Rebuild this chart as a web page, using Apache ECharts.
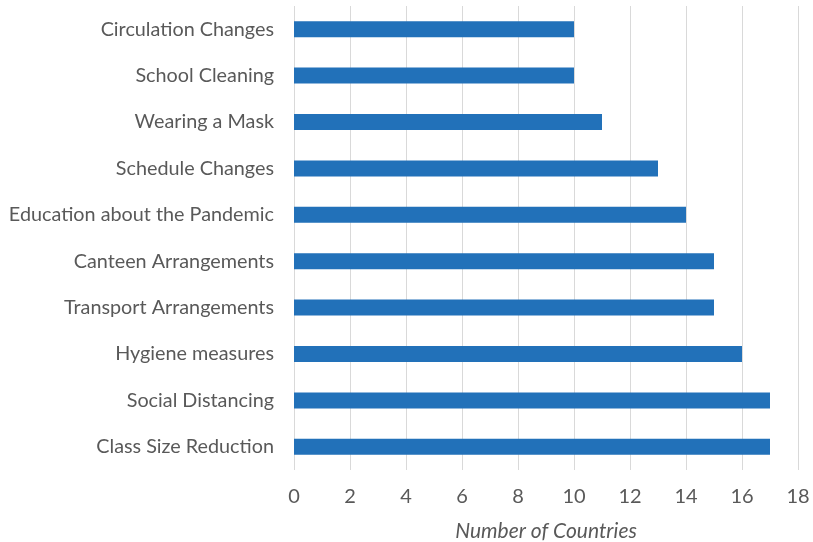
<!DOCTYPE html>
<html><head><meta charset="utf-8">
<script src="https://cdn.jsdelivr.net/npm/echarts@6/dist/echarts.min.js"></script>
<style>html,body{margin:0;padding:0;background:#fff}#c{width:813px;height:542px}</style>
</head><body><div id="c"></div>
<script>
const categories = ["Class Size Reduction","Social Distancing","Hygiene measures","Transport Arrangements","Canteen Arrangements","Education about the Pandemic","Schedule Changes","Wearing a Mask","School Cleaning","Circulation Changes"];
const values = [17,17,16,15,15,14,13,11,10,10];
const xTicks = {min:0,max:18,interval:2};
const axisName = "Number of Countries";

const F = 'Lato';
const chart = echarts.init(document.getElementById('c'));
chart.setOption({
  animation:false,
  grid:{left:294,right:15,top:6,bottom:72,containLabel:false,outerBoundsMode:'none'},
  xAxis:{type:'value',min:xTicks.min,max:xTicks.max,interval:xTicks.interval,
    name:axisName,nameLocation:'middle',nameGap:51,
    nameTextStyle:{fontFamily:F,fontStyle:'italic',fontSize:21,color:'#595959'},
    axisLine:{show:false},axisTick:{show:false},
    axisLabel:{fontFamily:F,fontSize:20,color:'#595959',margin:17},
    splitLine:{lineStyle:{color:'#d9d9d9',width:1}}},
  yAxis:{type:'category',data:categories,
    axisLine:{show:false},axisTick:{show:false},
    axisLabel:{fontFamily:F,fontSize:19.8,color:'#595959',margin:20}},
  series:[{type:'bar',data:values,barWidth:16,itemStyle:{color:'#2271b9'}}]
});
</script></body></html>
